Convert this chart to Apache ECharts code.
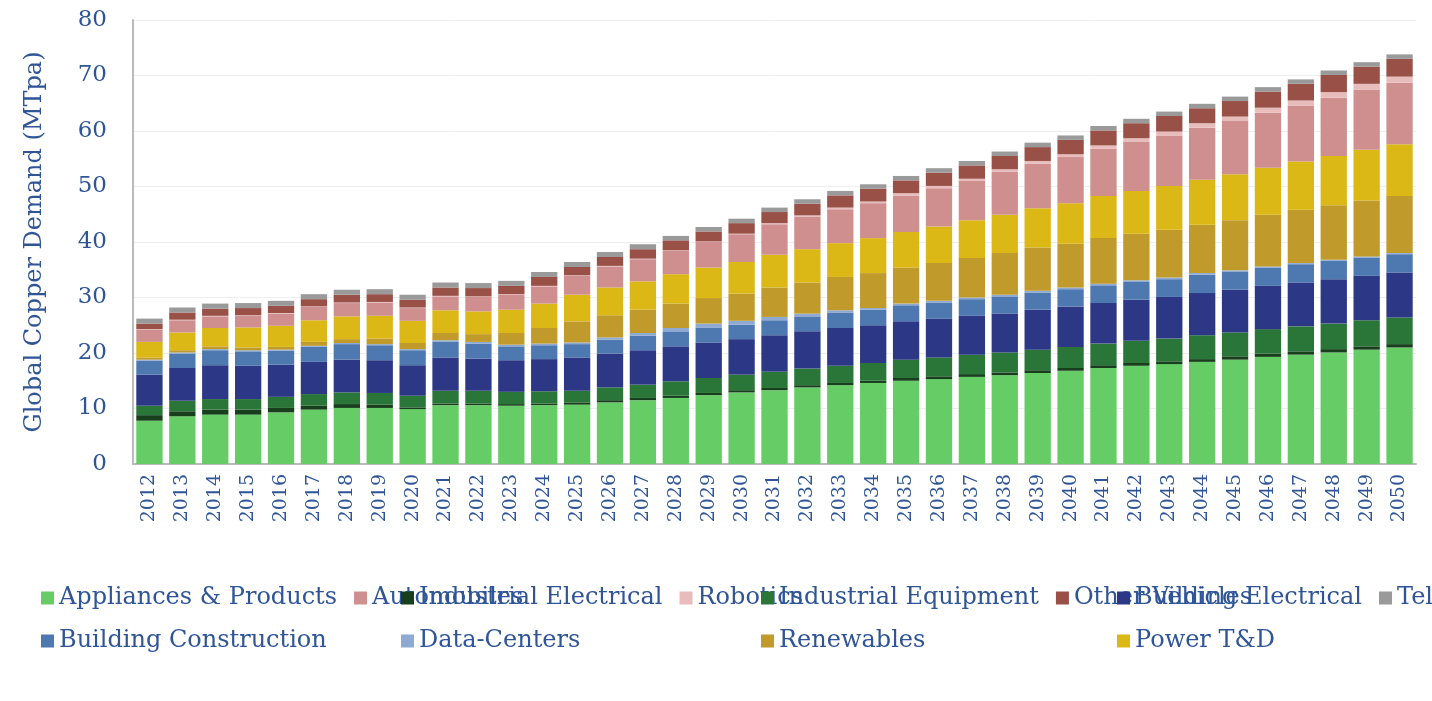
<!DOCTYPE html>
<html>
<head>
<meta charset="utf-8">
<script src="https://cdn.jsdelivr.net/npm/echarts@6/dist/echarts.min.js"></script>
<style>html,body{margin:0;padding:0;background:#fff}#main{width:1432px;height:701px}</style>
</head>
<body>
<div id="main"></div>
<script>
// years
var years = [];
for (var y = 2012; y <= 2050; y++) years.push(String(y));

// demand by end use, MTpa
var appliances = [7.8,8.6,8.9,8.9,9.3,9.8,10.1,10.1,9.9,10.6,10.6,10.5,10.6,10.7,11.1,11.5,11.9,12.4,12.9,13.3,13.8,14.2,14.6,15.0,15.3,15.7,16.0,16.4,16.8,17.3,17.7,18.0,18.4,18.8,19.3,19.7,20.1,20.6,21.0];
var indElectrical = [1.0,0.9,0.9,0.9,0.8,0.7,0.7,0.6,0.3,0.3,0.3,0.3,0.3,0.4,0.4,0.4,0.4,0.4,0.4,0.4,0.4,0.4,0.4,0.5,0.5,0.5,0.5,0.5,0.5,0.5,0.5,0.5,0.5,0.6,0.6,0.6,0.6,0.6,0.6];
var indEquipment = [1.7,1.9,1.9,1.9,2.0,2.1,2.1,2.1,2.1,2.3,2.3,2.2,2.2,2.1,2.3,2.4,2.6,2.7,2.8,2.9,3.0,3.1,3.2,3.3,3.4,3.5,3.6,3.7,3.8,3.9,4.0,4.1,4.3,4.3,4.4,4.5,4.6,4.7,4.8];
var bldgElectrical = [5.6,5.9,6.1,6.0,5.8,5.8,5.9,5.9,5.5,6.0,5.8,5.7,5.8,6.0,6.1,6.2,6.3,6.4,6.4,6.6,6.7,6.8,6.8,6.9,7.0,7.0,7.0,7.2,7.3,7.3,7.4,7.5,7.6,7.7,7.8,7.9,8.0,8.0,8.1];
var bldgConstruction = [2.5,2.6,2.7,2.6,2.5,2.7,2.8,2.7,2.7,2.8,2.7,2.5,2.5,2.4,2.5,2.6,2.7,2.7,2.6,2.7,2.7,2.8,2.8,2.9,2.9,3.0,3.1,3.1,3.1,3.2,3.2,3.2,3.3,3.3,3.3,3.3,3.3,3.3,3.3];
var dataCenters = [0.2,0.2,0.2,0.2,0.2,0.2,0.2,0.2,0.2,0.3,0.3,0.3,0.3,0.3,0.4,0.5,0.6,0.7,0.7,0.6,0.5,0.4,0.3,0.3,0.3,0.3,0.3,0.3,0.3,0.3,0.3,0.3,0.3,0.2,0.2,0.2,0.2,0.2,0.2];
var renewables = [0.4,0.4,0.5,0.5,0.5,0.7,0.7,1.0,1.1,1.3,1.4,2.1,2.8,3.8,4.0,4.2,4.4,4.6,4.9,5.3,5.6,6.0,6.3,6.5,6.8,7.1,7.5,7.8,7.9,8.2,8.4,8.6,8.7,9.0,9.3,9.6,9.8,10.1,10.3];
var powerTD = [2.8,3.2,3.3,3.6,3.8,3.9,4.1,4.1,4.0,4.1,4.1,4.2,4.4,4.8,5.0,5.1,5.3,5.5,5.7,5.9,6.0,6.1,6.3,6.4,6.6,6.8,6.9,7.1,7.3,7.6,7.7,7.9,8.1,8.3,8.5,8.7,8.9,9.1,9.3];
var automobiles = [2.2,2.2,2.1,2.1,2.2,2.4,2.4,2.4,2.3,2.5,2.6,2.7,3.1,3.4,3.8,4.0,4.2,4.6,5.0,5.5,5.9,6.1,6.3,6.6,6.9,7.1,7.8,8.0,8.3,8.5,8.9,9.1,9.4,9.6,9.9,10.1,10.5,10.9,11.1];
var robotics = [0.1,0.1,0.1,0.1,0.1,0.1,0.1,0.1,0.1,0.1,0.1,0.1,0.1,0.1,0.1,0.1,0.1,0.1,0.1,0.2,0.2,0.3,0.3,0.4,0.4,0.4,0.4,0.5,0.5,0.6,0.6,0.7,0.8,0.8,0.9,0.9,1.0,1.0,1.1];
var otherVehicles = [1.0,1.3,1.3,1.3,1.3,1.3,1.4,1.4,1.4,1.5,1.5,1.5,1.6,1.5,1.6,1.7,1.8,1.8,1.9,2.0,2.1,2.2,2.3,2.3,2.4,2.4,2.4,2.5,2.6,2.7,2.7,2.8,2.7,2.8,2.9,3.0,3.1,3.1,3.2];
var telecom = [0.9,0.9,0.9,0.9,0.9,0.9,0.9,0.9,0.9,0.9,0.9,0.9,0.9,0.9,0.9,0.9,0.8,0.8,0.8,0.8,0.8,0.8,0.8,0.8,0.8,0.8,0.8,0.8,0.8,0.8,0.8,0.8,0.8,0.8,0.8,0.8,0.8,0.8,0.8];

var yTicks = [0,10,20,30,40,50,60,70,80];

var seriesDefs = [
  ['Appliances & Products', appliances, '#66cc66'],
  ['Industrial Electrical', indElectrical, '#173f1c'],
  ['Industrial Equipment', indEquipment, '#2a7638'],
  ['Building Electrical', bldgElectrical, '#2c3885'],
  ['Building Construction', bldgConstruction, '#4e78b0'],
  ['Data-Centers', dataCenters, '#8eaad2'],
  ['Renewables', renewables, '#c09a2a'],
  ['Power T&D', powerTD, '#dcb816'],
  ['Automobiles', automobiles, '#d08f8f'],
  ['Robotics', robotics, '#e9bcbc'],
  ['Other Vehicles', otherVehicles, '#995047'],
  ['Telecommunications', telecom, '#9a9a9a']
];

var txt = '#2f5597';
var font = 'DejaVu Serif';

var series = seriesDefs.map(function (d) {
  return {
    name: d[0], type: 'bar', stack: 'all', data: d[1],
    barCategoryGap: '20%', itemStyle: { color: d[2] }
  };
});

// legend in 4 columns of 3
var legends = [0, 1, 2, 3].map(function (c) {
  return {
    orient: 'vertical', left: [36, 396, 756, 1112][c], top: 580,
    itemWidth: 13, itemHeight: 13, itemGap: 17, icon: 'rect',
    data: [seriesDefs[c][0], seriesDefs[c + 4][0], seriesDefs[c + 8][0]],
    textStyle: { fontFamily: font, fontSize: 24, color: txt, lineHeight: 26 }
  };
});

var myChart = echarts.init(document.getElementById('main'));
myChart.setOption({
  animation: false,
  grid: { left: 133, right: 16, top: 20, bottom: 237 },
  legend: legends,
  xAxis: {
    type: 'category', data: years,
    axisLine: { lineStyle: { color: '#bbbbbb', width: 2 } },
    axisTick: { show: false },
    axisLabel: { rotate: 90, fontFamily: font, fontSize: 19, color: txt, margin: 10 }
  },
  yAxis: {
    type: 'value', min: yTicks[0], max: yTicks[yTicks.length - 1], interval: 10,
    name: 'Global Copper Demand (MTpa)', nameLocation: 'middle', nameGap: 86,
    nameTextStyle: { fontFamily: font, fontSize: 24, color: txt },
    axisLine: { show: true, lineStyle: { color: '#bbbbbb', width: 2 } },
    splitLine: { lineStyle: { color: '#eeeeee' } },
    axisLabel: { fontFamily: font, fontSize: 23, color: txt, margin: 26 }
  },
  series: series
});
</script>
</body>
</html>
